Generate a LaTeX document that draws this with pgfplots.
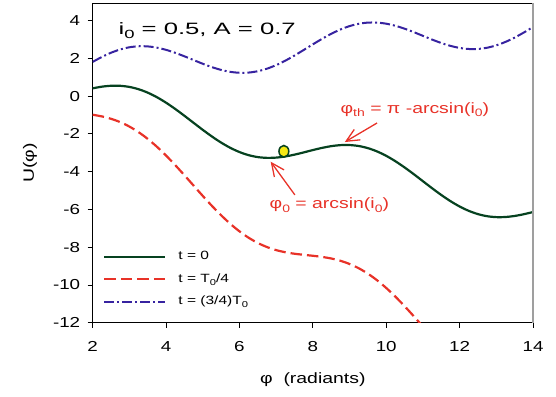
\documentclass[border=0pt]{standalone}
\usepackage{pgfplots}
\pgfplotsset{compat=1.18}
\usepackage{fontspec}
\setmainfont{Liberation Sans}[FakeStretch=1.3]
\usetikzlibrary{arrows.meta}
\definecolor{cgreen}{RGB}{6,66,32}
\definecolor{cred}{RGB}{232,50,40}
\definecolor{cblue}{RGB}{55,35,160}
\definecolor{cyel}{RGB}{245,232,20}
\newcommand\sub[1]{\raisebox{-0.45ex}{\scalebox{0.72}{#1}}}

\begin{document}
\begin{tikzpicture}[x=1bp,y=1bp]
\useasboundingbox (-92.7,-73.3) rectangle (463.3,322.7);
\begin{axis}[at={(0,0)}, anchor=south west, scale only axis,
  width=440.3bp, height=319.4bp,
  xmin=2, xmax=14, ymin=-12, ymax=4.92,
  xtick={2,4,...,14}, ytick={-12,-10,...,4},
  tick align=outside, xtick pos=left, ytick pos=left,
  major tick length=5bp,
  tick style={black, line width=0.9bp},
  axis line style={line width=0.8bp},
  /pgf/number format/assume math mode=true,
  tick label style={font=\fontsize{14.5}{16}\selectfont},
  xticklabel style={yshift=-10bp},
  yticklabel style={xshift=-4bp},
  label style={font=\fontsize{15}{17}\selectfont},
  xlabel={φ\ \ (radiants)}, ylabel={U(φ)},
  xlabel style={at={(axis description cs:0.5,-0.178)}, anchor=center},
  ylabel style={at={(axis description cs:-0.1424,0.5)}, anchor=center},
  clip mode=individual,
  legend cell align=left,
  legend image code/.code={\draw[#1] (0bp,0bp) -- (61bp,0bp);},
  legend style={draw=none, fill=none, at={(axis description cs:0.0166,0.232)}, anchor=north west,
    font=\fontsize{12}{14}\selectfont, row sep=10.5bp, column sep=12bp,
    nodes={inner sep=0bp, text height=9bp, text depth=3bp}},
]
\addplot[cgreen, line width=2.2bp, smooth] coordinates {
(2.00,0.41615) (2.25,0.50317) (2.50,0.55114) (2.75,0.54930) (3.00,0.48999)
(3.25,0.36913) (3.50,0.18646) (3.75,-0.05444) (4.00,-0.34636) (4.25,-0.67891)
(4.50,-1.03920) (4.75,-1.41260) (5.00,-1.78366) (5.25,-2.13708) (5.50,-2.45867)
(5.75,-2.73619) (6.00,-2.96017) (6.25,-3.12445) (6.50,-3.22659) (6.75,-3.26801)
(7.00,-3.25390) (7.25,-3.19292) (7.50,-3.09664) (7.75,-2.97879) (8.00,-2.85450)
(8.25,-2.73925) (8.50,-2.64799) (8.75,-2.59415) (9.00,-2.58887) (9.25,-2.64023)
(9.50,-2.75283) (9.75,-2.92742) (10.00,-3.16093) (10.25,-3.44661) (10.50,-3.77446)
(10.75,-4.13189) (11.00,-4.50443) (11.25,-4.87669) (11.50,-5.23330) (11.75,-5.55988)
(12.00,-5.84385) (12.25,-6.07537) (12.50,-6.24780) (12.75,-6.35819) (13.00,-6.40745)
(13.25,-6.40029) (13.50,-6.34492) (13.75,-6.25257) (14.00,-6.13674)};
\addlegendentry{t = 0}
\addplot[cred, line width=2.2bp, smooth, dash pattern=on 11.5bp off 5bp] coordinates {
(2.00,-0.98385) (2.25,-1.07183) (2.50,-1.19886) (2.75,-1.37570) (3.00,-1.61001)
(3.25,-1.90587) (3.50,-2.26354) (3.75,-2.67944) (4.00,-3.14636) (4.25,-3.65391)
(4.50,-4.18920) (4.75,-4.73760) (5.00,-5.28366) (5.25,-5.81208) (5.50,-6.30867)
(5.75,-6.76119) (6.00,-7.16017) (6.25,-7.49945) (6.50,-7.77659) (6.75,-7.99301)
(7.00,-8.15390) (7.25,-8.26792) (7.50,-8.34664) (7.75,-8.40379) (8.00,-8.45450)
(8.25,-8.51425) (8.50,-8.59799) (8.75,-8.71915) (9.00,-8.88887) (9.25,-9.11523)
(9.50,-9.40283) (9.75,-9.75242) (10.00,-10.16093) (10.25,-10.62161) (10.50,-11.12446)
(10.75,-11.65689) (11.00,-12.20443)};
\addlegendentry{t = T\sub{0}/4}
\addplot[cblue, line width=2bp, smooth, dash pattern=on 10bp off 3bp on 2bp off 3bp] coordinates {
(2.00,1.81615) (2.25,2.07817) (2.50,2.30114) (2.75,2.47430) (3.00,2.58999)
(3.25,2.64413) (3.50,2.63646) (3.75,2.57056) (4.00,2.45364) (4.25,2.29609)
(4.50,2.11080) (4.75,1.91240) (5.00,1.71634) (5.25,1.53792) (5.50,1.39133)
(5.75,1.28881) (6.00,1.23983) (6.25,1.25055) (6.50,1.32341) (6.75,1.45699)
(7.00,1.64610) (7.25,1.88208) (7.50,2.15336) (7.75,2.44621) (8.00,2.74550)
(8.25,3.03575) (8.50,3.30201) (8.75,3.53085) (9.00,3.71113) (9.25,3.83477)
(9.50,3.89717) (9.75,3.89758) (10.00,3.83907) (10.25,3.72839) (10.50,3.57554)
(10.75,3.39311) (11.00,3.19557) (11.25,2.99831) (11.50,2.81670) (11.75,2.66512)
(12.00,2.55615) (12.25,2.49963) (12.50,2.50220) (12.75,2.56681) (13.00,2.69255)
(13.25,2.87471) (13.50,3.10508) (13.75,3.37243) (14.00,3.66326)};
\addlegendentry{t = (3/4)T\sub{0}}
\addplot[forget plot, only marks, mark=*, mark size=5.8bp,
  mark options={xscale=0.85, fill=cyel, draw=cgreen, line width=1.5bp}]
  coordinates {(7.21,-2.92)};
\draw[gray!75, line width=1.2bp] (rel axis cs:1,0) -- (rel axis cs:1,1);
\draw[cred, line width=1.3bp, -{Straight Barb[length=13bp,width=12bp]}] (axis cs:9.75,-1.42) -- (axis cs:8.87,-2.43);
\draw[cred, line width=1.3bp, -{Straight Barb[length=13bp,width=12bp]}] (axis cs:7.51,-5.23) -- (axis cs:6.85,-3.47);
\node[cred, font=\fontsize{15}{17}\selectfont] at (axis cs:10.78,-0.72) {φ\sub{th} = π -arcsin(i\sub{0})};
\node[cred, font=\fontsize{15}{17}\selectfont] at (axis cs:8.45,-5.76) {φ\sub{0} = arcsin(i\sub{0})};
\node[anchor=west, font=\fontsize{16.5}{18}\selectfont] at (axis cs:2.61,3.45) {\scalebox{1.2}[1]{i\sub{0} = 0.5, A = 0.7}};
\end{axis}
\end{tikzpicture}
\end{document}
